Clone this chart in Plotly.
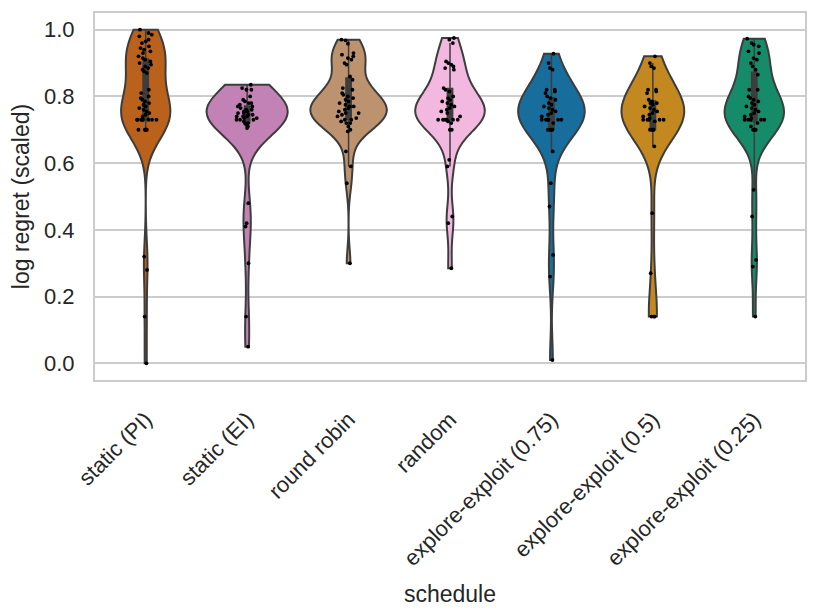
import colorsys
import numpy as np
import plotly.graph_objects as go

schedules = ["static (PI)", "static (EI)", "round robin", "random",
             "explore-exploit (0.75)", "explore-exploit (0.5)", "explore-exploit (0.25)"]

static_pi = [1.0, 0.99, 0.985, 0.98, 0.97, 0.965, 0.96, 0.95, 0.945, 0.94, 0.935, 0.93,
             0.92, 0.915, 0.91, 0.905, 0.90, 0.895, 0.89, 0.885, 0.88, 0.875, 0.87,
             0.82, 0.81, 0.80, 0.795, 0.79, 0.785, 0.78, 0.775, 0.77, 0.765, 0.76,
             0.755, 0.75, 0.745, 0.74,
             0.73, 0.73, 0.73, 0.73, 0.73, 0.73, 0.73, 0.73,
             0.70, 0.70, 0.70, 0.70, 0.70, 0.70, 0.32, 0.28, 0.14, 0.0]
static_ei = [0.835, 0.825, 0.82, 0.82, 0.80, 0.79, 0.785, 0.78, 0.78, 0.775, 0.77, 0.77,
             0.765, 0.76, 0.76, 0.755, 0.755, 0.75, 0.75, 0.745, 0.745, 0.74, 0.74, 0.74,
             0.735, 0.735, 0.73, 0.73, 0.73, 0.725, 0.72, 0.72, 0.715, 0.71, 0.705,
             0.48, 0.42, 0.41, 0.30, 0.14, 0.05]
round_robin = [0.97, 0.968, 0.958, 0.93, 0.925, 0.92, 0.915, 0.91, 0.90, 0.895, 0.86, 0.85,
               0.825, 0.82, 0.81, 0.805, 0.80, 0.795, 0.79, 0.785, 0.78, 0.775, 0.77, 0.77,
               0.765, 0.76, 0.755, 0.75, 0.75, 0.745, 0.74, 0.735, 0.73, 0.73, 0.725, 0.72,
               0.72, 0.71, 0.70, 0.695, 0.635, 0.59, 0.54, 0.30]
random_sched = [0.975, 0.97, 0.96, 0.905, 0.90, 0.895, 0.89, 0.885, 0.88, 0.825, 0.82, 0.815,
                0.80, 0.795, 0.79, 0.785, 0.78, 0.775, 0.77, 0.765, 0.76, 0.755, 0.75, 0.74,
                0.73, 0.73, 0.73, 0.73, 0.73, 0.73, 0.725, 0.72, 0.70, 0.70,
                0.61, 0.59, 0.44, 0.42, 0.285]
ee_075 = [0.928, 0.90, 0.885, 0.88, 0.82, 0.82, 0.815, 0.81, 0.80, 0.795, 0.79, 0.78,
          0.775, 0.77, 0.765, 0.76, 0.755, 0.75, 0.745, 0.74, 0.73, 0.73, 0.73, 0.73,
          0.73, 0.73, 0.72, 0.70, 0.70, 0.70, 0.70, 0.635, 0.54, 0.47, 0.325, 0.26, 0.01]
ee_05 = [0.92, 0.90, 0.89, 0.885, 0.82, 0.82, 0.815, 0.81, 0.79, 0.785, 0.78, 0.78,
         0.775, 0.77, 0.765, 0.76, 0.755, 0.75, 0.745, 0.74, 0.735,
         0.73, 0.73, 0.73, 0.73, 0.73, 0.725,
         0.70, 0.70, 0.70, 0.70, 0.65, 0.45, 0.27, 0.14, 0.14, 0.14]
ee_025 = [0.973, 0.96, 0.955, 0.95, 0.935, 0.93, 0.915, 0.91, 0.90, 0.89, 0.88, 0.865,
          0.82, 0.82, 0.80, 0.795, 0.79, 0.785, 0.78, 0.775, 0.77, 0.765, 0.76, 0.755,
          0.75, 0.745, 0.74, 0.735, 0.73, 0.73, 0.73, 0.73, 0.73, 0.72, 0.71,
          0.70, 0.70, 0.70, 0.70, 0.52, 0.44, 0.31, 0.29, 0.14]

groups = [static_pi, static_ei, round_robin, random_sched, ee_075, ee_05, ee_025]
base_colors = ["#d55e00", "#cc78bc", "#ca9161", "#fbafe4", "#0173b2", "#de8f05", "#029e73"]


def desat(hexc, prop=0.75):
    r, g, b = (int(hexc[i:i + 2], 16) / 255 for i in (1, 3, 5))
    h, l, s = colorsys.rgb_to_hls(r, g, b)
    r, g, b = colorsys.hls_to_rgb(h, l, s * prop)
    return "rgb(%d,%d,%d)" % (round(r * 255), round(g * 255), round(b * 255))


def kde_peak(arr, bw):
    grid = np.linspace(arr.min(), arr.max(), 400)
    d = np.exp(-0.5 * ((grid[:, None] - arr[None, :]) / bw) ** 2).sum(1)
    return d.max() / (len(arr) * bw * np.sqrt(2 * np.pi))


# bandwidths (scott, a bit tighter) and area-style widths like seaborn
bws, peaks = [], []
for vals in groups:
    arr = np.array(vals)
    bw = 0.75 * arr.std(ddof=1) * len(arr) ** (-1 / 5)
    bws.append(bw)
    peaks.append(kde_peak(arr, bw))
widths = [0.8 * p / max(peaks) for p in peaks]

edge = "#3d3d3d"
fig = go.Figure()
for i, (name, vals, col) in enumerate(zip(schedules, groups, base_colors)):
    fig.add_trace(go.Violin(
        x=[name] * len(vals), y=vals, name=name,
        scalegroup=name, scalemode="width", width=widths[i],
        spanmode="hard", bandwidth=bws[i],
        fillcolor=desat(col), opacity=1,
        line=dict(color=edge, width=2),
        box=dict(visible=True, width=0.065 * 0.8 / widths[i], fillcolor=edge,
                 line=dict(color=edge, width=1.5)),
        meanline_visible=False,
        points="all", pointpos=0, jitter=min(1, 0.24 / widths[i]),
        marker=dict(color="black", size=3.8, line=dict(width=0)),
        showlegend=False, hoverinfo="y",
    ))

# page body adds 8px around the figure
fig.update_layout(
    width=815, height=600,
    margin=dict(l=87, r=18, t=5, b=228),
    plot_bgcolor="white", paper_bgcolor="white",
    violinmode="overlay",
    font=dict(family="Liberation Sans, Arial, sans-serif", size=22, color="#262626"),
    xaxis=dict(
        title=dict(text="schedule", font=dict(size=23), standoff=16),
        categoryorder="array", categoryarray=schedules,
        range=[-0.5, 6.5], tickangle=-45, showgrid=False, automargin=False,
        ticklabelstandoff=16,
        showline=True, mirror=True, linecolor="#cccccc", linewidth=2,
        ticks="", zeroline=False,
    ),
    yaxis=dict(
        title=dict(text="log regret (scaled)", font=dict(size=23), standoff=14),
        range=[-0.05, 1.05], tickvals=[0, 0.2, 0.4, 0.6, 0.8, 1.0], tickformat=".1f",
        showgrid=True, gridcolor="#cccccc", gridwidth=1.5, automargin=False,
        ticklabelstandoff=14,
        showline=True, mirror=True, linecolor="#cccccc", linewidth=2,
        ticks="", zeroline=False,
    ),
)

fig.write_html("out.html")
